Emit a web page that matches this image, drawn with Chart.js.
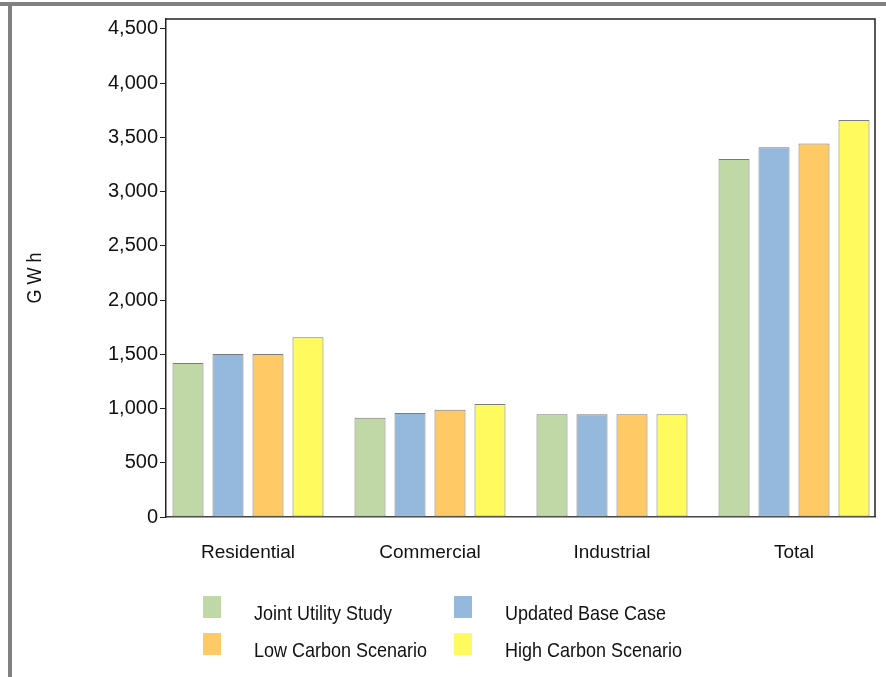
<!DOCTYPE html>
<html>
<head>
<meta charset="utf-8">
<script src="https://cdn.jsdelivr.net/npm/chart.js@4/dist/chart.umd.min.js"></script>
<style>
html,body{margin:0;padding:0;background:#fff;overflow:hidden}
#wrap{position:relative;width:886px;height:677px;background:#fff}
#topband{position:absolute;left:0;top:2px;width:886px;height:4px;background:#808080}
#leftband{position:absolute;left:8px;top:2px;width:4px;height:675px;background:#808080}
canvas{position:absolute;left:0;top:0}
</style>
</head>
<body>
<div id="wrap">
<div id="topband"></div>
<div id="leftband"></div>
<canvas id="c" width="886" height="677"></canvas>
</div>
<script>
// ---- data ----
const categories = ['Residential', 'Commercial', 'Industrial', 'Total'];
const seriesNames = ['Joint Utility Study', 'Updated Base Case', 'Low Carbon Scenario', 'High Carbon Scenario'];
const jointUtilityStudy  = [1420, 915, 948, 3300];
const updatedBaseCase    = [1502, 958, 948, 3410];
const lowCarbonScenario  = [1502, 988, 948, 3443];
const highCarbonScenario = [1658, 1042, 948, 3660];
const yTickValues = [0, 500, 1000, 1500, 2000, 2500, 3000, 3500, 4000, 4500];
const yAxisTitle = 'G W h';

// ---- styles ----
const FONT = '"Liberation Sans", Arial, sans-serif';
const seriesColors = ['#BFD8A6', '#95B9DD', '#FFCA66', '#FFFB5E'];
const seriesValues = [jointUtilityStudy, updatedBaseCase, lowCarbonScenario, highCarbonScenario];

const datasets = seriesNames.map((name, i) => ({
  label: name,
  data: seriesValues[i].map((v, k) => ({ x: k, y: v })),
  backgroundColor: seriesColors[i],
  borderColor: '#7a7a7a',
  borderWidth: 1,
  borderSkipped: false,
  categoryPercentage: 0.879,
  barPercentage: 0.775
}));

const framePlugin = {
  id: 'frame',
  afterDraw(chart) {
    const { ctx, chartArea: a } = chart;
    ctx.save();
    ctx.strokeStyle = '#222';
    ctx.lineWidth = 1.5;
    ctx.beginPath();
    ctx.moveTo(a.left, a.top);
    ctx.lineTo(a.right, a.top);
    ctx.lineTo(a.right, a.bottom);
    ctx.stroke();
    ctx.restore();
  }
};

const titlePlugin = {
  id: 'yTitle',
  afterDraw(chart) {
    const ctx = chart.ctx;
    ctx.save();
    ctx.translate(36, 278);
    ctx.rotate(-Math.PI / 2);
    ctx.scale(1, 1.08);
    ctx.font = '18px ' + FONT;
    ctx.fillStyle = '#111';
    ctx.textAlign = 'center';
    ctx.textBaseline = 'middle';
    ctx.fillText(yAxisTitle, 0, 0);
    ctx.restore();
  }
};

const legendPlugin = {
  id: 'customLegend',
  afterDraw(chart) {
    const ctx = chart.ctx;
    ctx.save();
    ctx.font = '18px ' + FONT;
    ctx.textBaseline = 'alphabetic';
    ctx.textAlign = 'left';
    chart.data.datasets.forEach((ds, i) => {
      const col = i % 2, row = Math.floor(i / 2);
      const sx = 203 + col * 251, sy = 596 + row * 37;
      ctx.fillStyle = ds.backgroundColor;
      ctx.fillRect(sx, sy, 18, 22);
      ctx.save();
      ctx.translate(254 + col * 251, 620 + row * 37);
      ctx.scale(1, 1.12);
      ctx.fillStyle = '#111';
      ctx.fillText(ds.label, 0, 0);
      ctx.restore();
    });
    ctx.restore();
  }
};

new Chart(document.getElementById('c'), {
  type: 'bar',
  data: { datasets },
  options: {
    responsive: false,
    devicePixelRatio: 1,
    animation: false,
    layout: { padding: { top: 19, right: 11, left: 0, bottom: 0 } },
    plugins: { legend: { display: false }, tooltip: { enabled: false } },
    scales: {
      x: {
        type: 'linear',
        min: -0.4505,
        max: 3.445,
        offset: false,
        grid: { display: true, drawOnChartArea: false, drawTicks: false },
        border: { display: true, color: '#444', width: 1.5 },
        ticks: {
          stepSize: 1,
          includeBounds: false,
          autoSkip: false,
          maxRotation: 0,
          padding: 24,
          color: '#111',
          font: { family: FONT, size: 19 },
          callback: v => (Number.isInteger(v) && categories[v] !== undefined) ? categories[v] : ''
        },
        afterFit: s => { s.height = 160; }
      },
      y: {
        min: 0,
        max: 4592,
        afterBuildTicks: s => { s.ticks = yTickValues.map(v => ({ value: v })); },
        grid: { display: true, drawOnChartArea: false, drawTicks: true, tickLength: 6, color: '#222' },
        border: { display: true, color: '#222', width: 1.5 },
        ticks: {
          padding: 2,
          color: '#111',
          font: { family: FONT, size: 20 },
          callback: v => v.toLocaleString('en-US')
        },
        title: { display: false },
        afterFit: s => { s.width = 166; }
      }
    }
  },
  plugins: [framePlugin, titlePlugin, legendPlugin]
});
</script>
</body>
</html>
